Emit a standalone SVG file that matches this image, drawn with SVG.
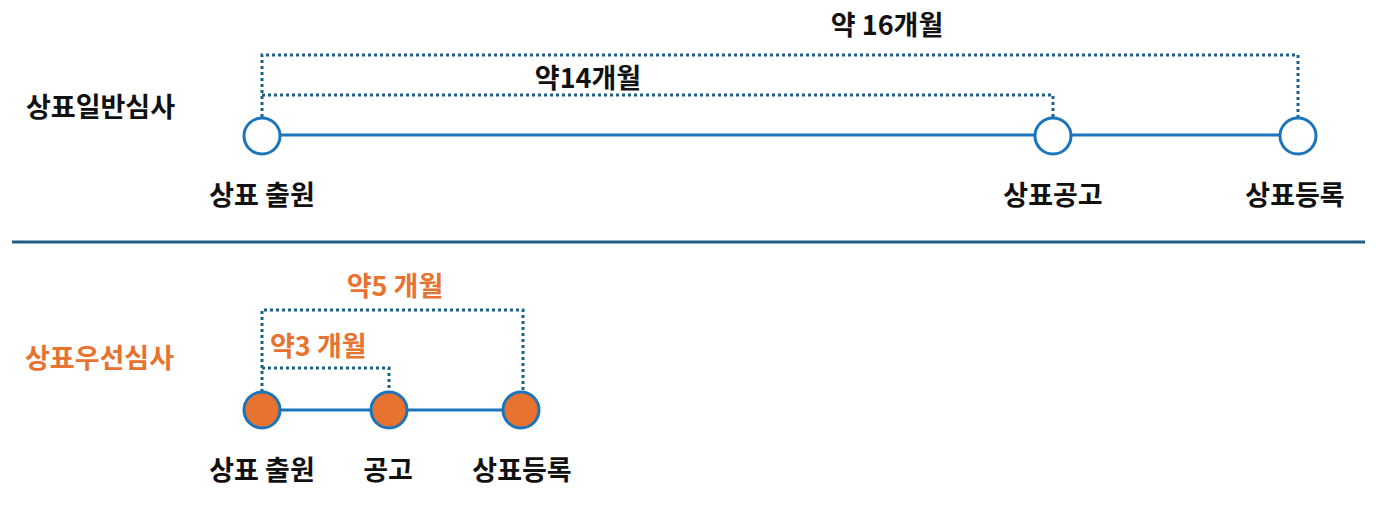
<svg xmlns="http://www.w3.org/2000/svg" width="1398" height="508" viewBox="0 0 1398 508">
<style>
text{font-family:"Noto Sans CJK KR","Noto Sans",sans-serif;font-weight:bold;font-size:27px;fill:#111}
.o{fill:#e8722f}
.m{text-anchor:middle}
.dot{fill:none;stroke:#1f6184;stroke-width:3;stroke-dasharray:3 3}
.ln{stroke:#1b75bc;stroke-width:3}
.c1{fill:#fff;stroke:#1b75bc;stroke-width:3}
.c2{fill:#e8722f;stroke:#1b75bc;stroke-width:3}
</style>
<rect width="1398" height="508" fill="#fff"/>
<g id="connectors">
<line class="ln" x1="262" y1="135" x2="1298" y2="135"/>
<polyline class="dot" points="262,117 262,55 1298,55 1298,117"/>
<polyline class="dot" points="262,95 1053,95 1053,117"/>
<line x1="12" y1="242" x2="1365" y2="242" stroke="#1f5f80" stroke-width="3"/>
<line class="ln" x1="262" y1="410" x2="521" y2="410"/>
<polyline class="dot" points="262,392 262,310 523,310 523,392"/>
<polyline class="dot" points="262,368 389,368 389,392"/>
</g>
<g id="titles">
<text x="26" y="117">상표일반심사</text>
<text class="o" x="25" y="368">상표우선심사</text>
<text class="m" x="887" y="35">약 16개월</text>
<text class="m" x="588" y="88">약14개월</text>
<text class="o m" x="395" y="296">약5 개월</text>
<text class="o" x="270" y="356">약3 개월</text>
</g>
<g id="n1"><circle class="c1" cx="262" cy="136" r="18"/><text class="m" x="262" y="205">상표 출원</text></g>
<g id="n2"><circle class="c1" cx="1053" cy="136" r="18"/><text class="m" x="1053" y="205">상표공고</text></g>
<g id="n3"><circle class="c1" cx="1298" cy="136" r="18"/><text class="m" x="1295" y="205">상표등록</text></g>
<g id="n4"><circle class="c2" cx="262" cy="410" r="18"/><text class="m" x="262" y="480">상표 출원</text></g>
<g id="n5"><circle class="c2" cx="389" cy="410" r="18"/><text class="m" x="388" y="480">공고</text></g>
<g id="n6"><circle class="c2" cx="521" cy="410" r="18"/><text class="m" x="522" y="480">상표등록</text></g>
</svg>
